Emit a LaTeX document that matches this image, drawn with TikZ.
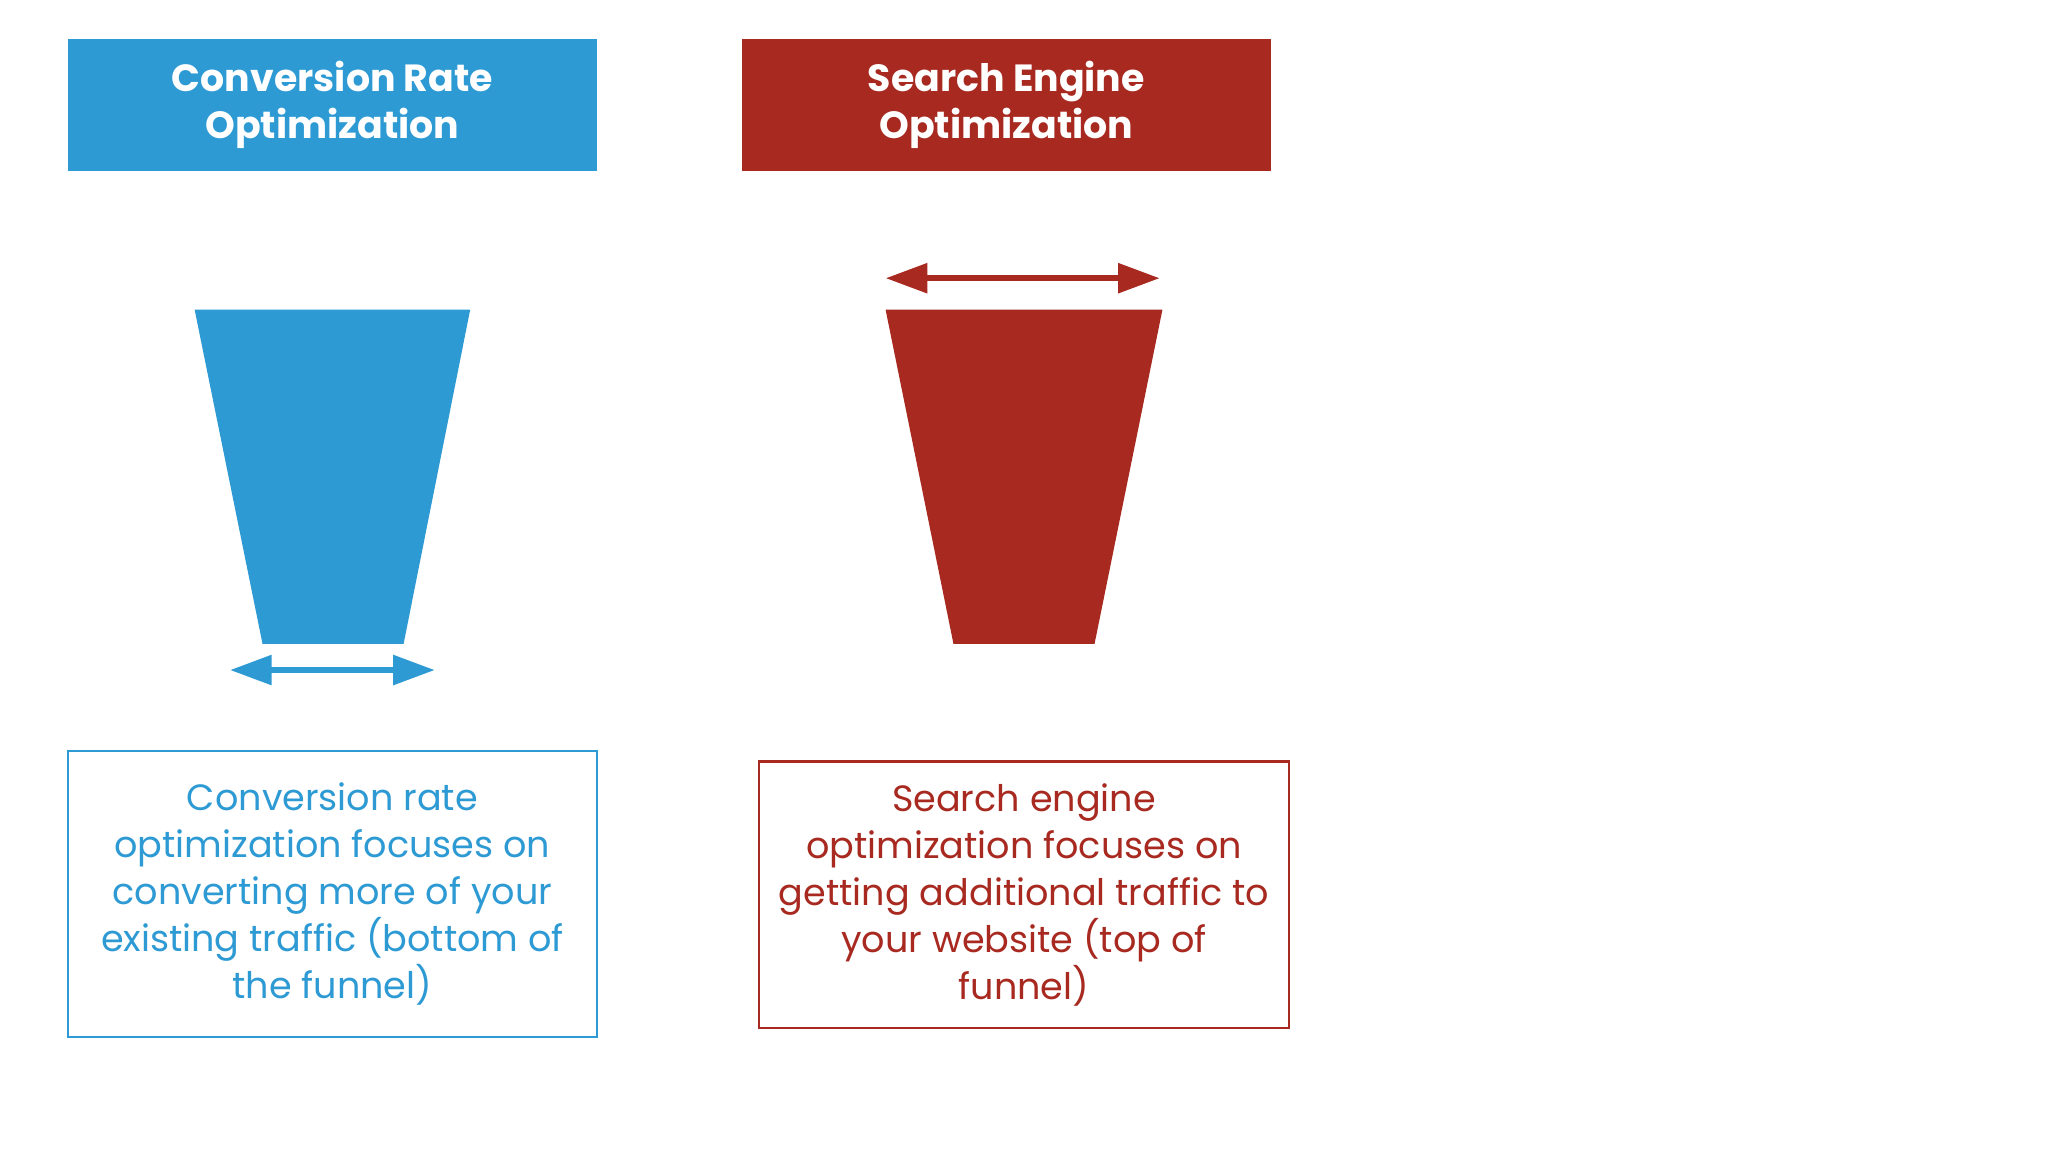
\documentclass[tikz,border=0pt]{standalone}
\usepackage{fontspec}
\setmainfont{Poppins}
\usetikzlibrary{arrows.meta}
\definecolor{cblue}{HTML}{2E9AD4}
\definecolor{cred}{HTML}{A72920}
\tikzset{
 header/.style={minimum width=202.5pt,minimum height=50.5pt,inner sep=0pt,text=white,font=\fontsize{14.5}{18}\selectfont\bfseries,align=center},
 descbox/.style={draw=#1,line width=0.8pt,inner sep=0pt,text=#1,font=\fontsize{14}{18}\selectfont,align=center},
 dbl/.style={line width=2.5pt,{Triangle[width=11pt,length=16pt]}-{Triangle[width=11pt,length=16pt]},draw=#1}
}
\begin{document}
\begin{tikzpicture}[x=0.5pt,y=-0.5pt]
\useasboundingbox (0,0) rectangle (1568,882);
\node[header,fill=cblue] (h1) at (254.5,80.5) {Conversion Rate\\Optimization};
\node[header,fill=cred] (h2) at (770.5,80.5) {Search Engine\\Optimization};
\fill[cblue] (149,237) -- (360,237) -- (309,493) -- (201,493) -- cycle;
\fill[cred] (678,237) -- (890,237) -- (838,493) -- (730,493) -- cycle;
\coordinate (a1) at (176,513); \coordinate (b1) at (333,513);
\coordinate (a2) at (678,213); \coordinate (b2) at (888,213);
\draw[dbl=cblue] (a1) -- (b1);
\draw[dbl=cred] (a2) -- (b2);
\node[descbox=cblue,minimum width=202.5pt,minimum height=109.5pt] (t1) at (254.5,684.5) {Conversion rate\\optimization focuses on\\converting more of your\\existing traffic (bottom of\\the funnel)};
\node[descbox=cred,minimum width=203pt,minimum height=102pt] (t2) at (784,685) {Search engine\\optimization focuses on\\getting additional traffic to\\your website (top of\\funnel)};
\end{tikzpicture}
\end{document}
